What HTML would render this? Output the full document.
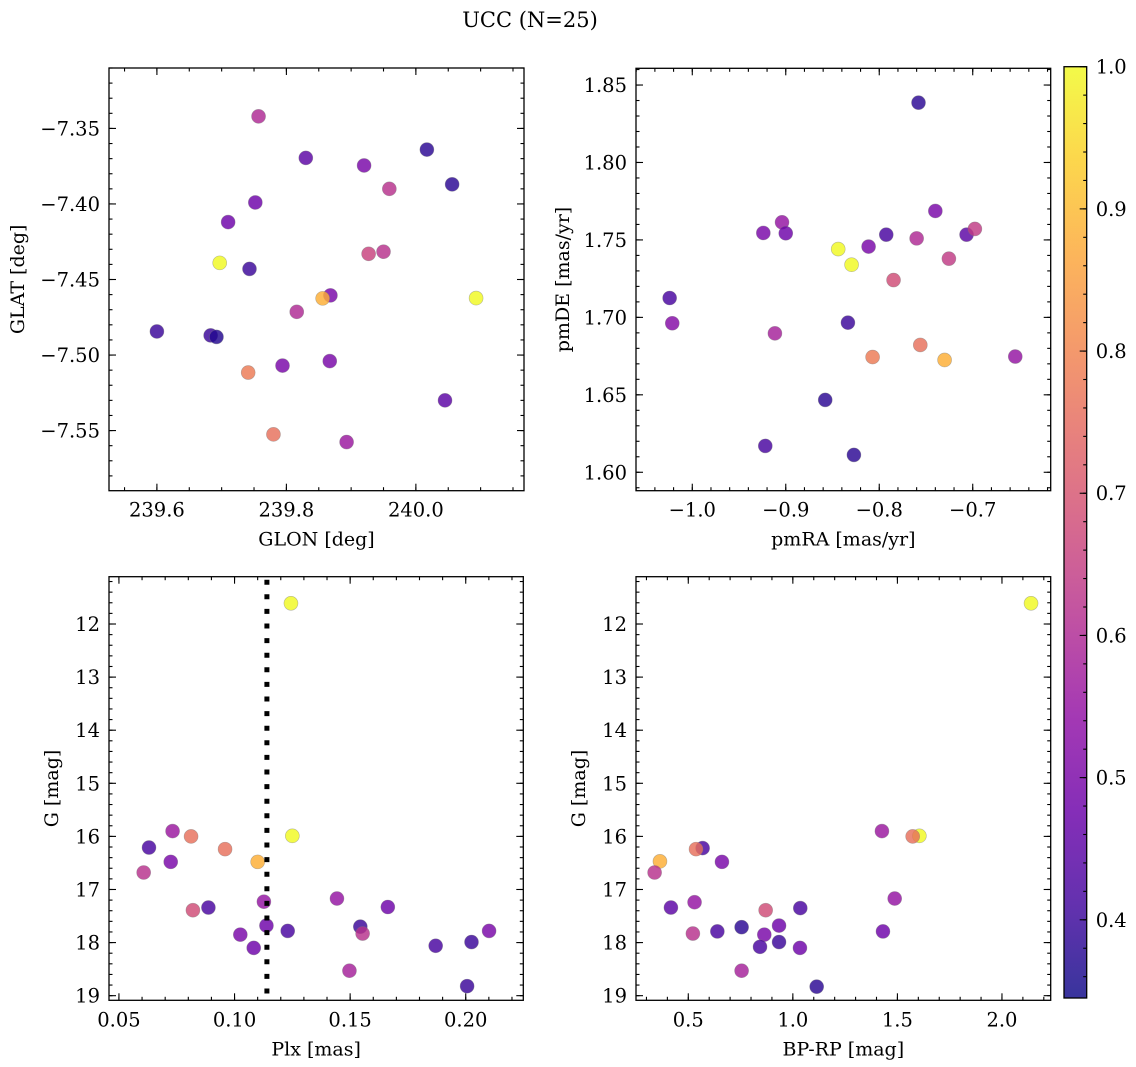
<!DOCTYPE html>
<html><head><meta charset="utf-8">
<style>
html,body{margin:0;padding:0;background:#fff;}
svg{display:block;font-family:"DejaVu Serif","Liberation Serif",serif;}
</style></head>
<body>
<svg id="fig" width="1136" height="1067" viewBox="0 0 1136 1067" xmlns="http://www.w3.org/2000/svg">
<text x="530" y="27" font-size="21" text-anchor="middle">UCC (N=25)</text>
</svg>
<script>
// ---- data ----
const glon = [239.757,239.830,239.920,240.017,240.056,239.959,239.752,239.710,239.927,239.950,239.697,239.743,239.868,239.856,240.093,239.816,239.600,239.683,239.692,239.867,239.794,239.741,240.045,239.780,239.893];
const glat = [-7.342,-7.3695,-7.3745,-7.364,-7.387,-7.390,-7.399,-7.412,-7.433,-7.4316,-7.439,-7.443,-7.4605,-7.4625,-7.4623,-7.4714,-7.4844,-7.487,-7.488,-7.504,-7.507,-7.5116,-7.530,-7.5525,-7.5576];
const probTL = [0.60,0.45,0.50,0.38,0.38,0.62,0.48,0.48,0.66,0.62,1.0,0.40,0.50,0.88,1.0,0.60,0.40,0.40,0.37,0.50,0.50,0.78,0.45,0.76,0.56];

const pmra = [-0.758,-0.740,-0.904,-0.924,-0.900,-0.7925,-0.760,-0.7066,-0.6977,-0.8114,-0.8439,-0.8296,-0.7255,-0.7847,-1.0242,-1.0214,-0.9116,-0.8335,-0.7561,-0.8071,-0.7301,-0.6545,-0.8578,-0.9219,-0.8271];
const pmde = [1.8386,1.7687,1.7614,1.7545,1.7543,1.7534,1.7510,1.7534,1.7571,1.7457,1.7441,1.7340,1.7379,1.7241,1.7125,1.6962,1.6897,1.6966,1.6822,1.6744,1.6725,1.6747,1.6467,1.6170,1.6112];
const probTR = [0.38,0.50,0.55,0.50,0.48,0.42,0.60,0.45,0.64,0.50,1.0,1.0,0.64,0.68,0.42,0.52,0.58,0.40,0.76,0.78,0.88,0.55,0.38,0.42,0.38];

const plx = [0.1244,0.125,0.0732,0.0812,0.0630,0.0959,0.0724,0.110,0.0607,0.0820,0.0887,0.1127,0.1138,0.1025,0.1083,0.123,0.1443,0.1544,0.1554,0.1663,0.1497,0.1870,0.2025,0.2101,0.2006];
const gmagBL = [11.61,15.99,15.90,16.00,16.21,16.24,16.48,16.48,16.68,17.39,17.34,17.23,17.68,17.85,18.10,17.78,17.17,17.70,17.83,17.33,18.53,18.06,17.99,17.78,18.82];
const probBL = [1.0,1.0,0.56,0.76,0.42,0.76,0.50,0.88,0.62,0.68,0.42,0.55,0.48,0.50,0.48,0.42,0.55,0.40,0.62,0.48,0.58,0.42,0.40,0.50,0.40];
const plxMedian = 0.114;

const bprp = [2.139,1.605,1.573,1.426,0.5685,0.537,0.661,0.3645,0.339,0.417,0.530,0.870,1.0356,1.487,0.755,0.639,0.522,0.934,0.8635,1.431,0.934,0.843,1.034,0.755,1.114];
const gmagBR = [11.61,15.99,16.00,15.90,16.22,16.24,16.48,16.47,16.68,17.34,17.24,17.39,17.35,17.17,17.71,17.79,17.83,17.68,17.85,17.79,17.99,18.08,18.10,18.53,18.83];
const probBR = [1.0,1.0,0.76,0.56,0.42,0.76,0.50,0.88,0.62,0.45,0.55,0.68,0.42,0.55,0.38,0.42,0.62,0.48,0.50,0.48,0.40,0.42,0.48,0.58,0.38];

const cbarMin = 0.345, cbarMax = 1.0;
const cbarTicks = [0.4,0.5,0.6,0.7,0.8,0.9,1.0];

// ---- helpers ----
const NS = "http://www.w3.org/2000/svg";
const svg = document.getElementById('fig');
const TICKFS = 19.5, LABFS = 19;
function mk(tag, attrs, parent){const e=document.createElementNS(NS,tag);for(const k in attrs)e.setAttribute(k,attrs[k]);(parent||svg).appendChild(e);return e;}
const stops=[[0,13,8,135],[0.1,65,4,157],[0.2,106,0,168],[0.3,143,13,164],[0.4,177,42,144],[0.5,204,71,120],[0.6,225,100,98],[0.7,242,132,75],[0.8,252,166,54],[0.9,252,206,37],[1,240,249,33]];
function plasma(t){t=Math.max(0,Math.min(1,t));for(let i=1;i<stops.length;i++){if(t<=stops[i][0]){const a=stops[i-1],b=stops[i];const f=(t-a[0])/(b[0]-a[0]);return `rgb(${Math.round(a[1]+f*(b[1]-a[1]))},${Math.round(a[2]+f*(b[2]-a[2]))},${Math.round(a[3]+f*(b[3]-a[3]))})`;}}return 'rgb(240,249,33)';}
function fmt(v,d){const s=Math.abs(v).toFixed(d);return (v<-1e-9?'\u2212':'')+s;}

function panel(cfg){
  const g=mk('g',{});
  
  
  const L=cfg.box[0],T=cfg.box[1],R=cfg.box[2],B=cfg.box[3];
  const sx=v=>L+(v-cfg.xd[0])/(cfg.xd[1]-cfg.xd[0])*(R-L);
  const sy=cfg.yinv? (v=>T+(v-cfg.yd[0])/(cfg.yd[1]-cfg.yd[0])*(B-T)) : (v=>B-(v-cfg.yd[0])/(cfg.yd[1]-cfg.yd[0])*(B-T));
  const clip='clip-'+cfg.name;
  const cp=mk('clipPath',{id:clip},g); mk('rect',{x:L,y:T,width:R-L,height:B-T},cp);
  const pg=mk('g',{'clip-path':`url(#${clip})`},g);
  
  
  for(let i=0;i<cfg.x.length;i++){
    const c=mk('circle',{cx:sx(cfg.x[i]),cy:sy(cfg.y[i]),r:7,fill:plasma((cfg.c[i]-cbarMin)/(cbarMax-cbarMin)),'fill-opacity':0.82,stroke:'#777','stroke-opacity':0.5,'stroke-width':0.6},pg);
    
    
  }
  if(cfg.vline!==undefined){
    const l=mk('line',{x1:sx(cfg.vline),x2:sx(cfg.vline),y1:T+3,y2:B,stroke:'#000','stroke-width':5,'stroke-dasharray':'5 9.6'},pg);
    
    
  }
  const tk=mk('g',{stroke:'#000','stroke-width':1.1},g);
  
  
  const eps=1e-9;
  function ticks(d,step){const a=[];let v=Math.ceil((d[0]-eps)/step)*step;for(;v<=d[1]+eps;v+=step)a.push(+v.toFixed(6));return a;}
  ticks(cfg.xd,cfg.xminor).forEach(v=>{const x=sx(v);mk('line',{x1:x,x2:x,y1:B,y2:B-3.5},tk);mk('line',{x1:x,x2:x,y1:T,y2:T+3.5},tk);});
  ticks(cfg.yd,cfg.yminor).forEach(v=>{const y=sy(v);mk('line',{x1:L,x2:L+3.5,y1:y,y2:y},tk);mk('line',{x1:R,x2:R-3.5,y1:y,y2:y},tk);});
  cfg.xt.forEach(v=>{const x=sx(v);mk('line',{x1:x,x2:x,y1:B,y2:B-7},tk);mk('line',{x1:x,x2:x,y1:T,y2:T+7},tk);
    const t=mk('text',{x:x,y:B+26,'font-size':TICKFS,'text-anchor':'middle'},g);t.textContent=fmt(v,cfg.xdec);
    
    });
  cfg.yt.forEach(v=>{const y=sy(v);mk('line',{x1:L,x2:L+7,y1:y,y2:y},tk);mk('line',{x1:R,x2:R-7,y1:y,y2:y},tk);
    const t=mk('text',{x:L-9,y:y+7,'font-size':TICKFS,'text-anchor':'end'},g);t.textContent=fmt(v,cfg.ydec);
    
    });
  const fr=mk('rect',{x:L,y:T,width:R-L,height:B-T,fill:'none',stroke:'#000','stroke-width':1.3},g);
  
  
  const xl=mk('text',{x:(L+R)/2,y:B+55,'font-size':LABFS,'text-anchor':'middle'},g);xl.textContent=cfg.xlab;
  
  
  const yl=mk('text',{x:cfg.ylx,y:(T+B)/2,'font-size':LABFS,'text-anchor':'middle',transform:`rotate(-90 ${cfg.ylx} ${(T+B)/2})`},g);yl.textContent=cfg.ylab;
  
  
}

panel({name:'glon-glat-panel',box:[109,68,524,490.7],xd:[239.526,240.167],yd:[-7.5898,-7.31],x:glon,y:glat,c:probTL,
  xt:[239.6,239.8,240.0],xminor:0.05,xdec:1,yt:[-7.55,-7.50,-7.45,-7.40,-7.35],yminor:0.01,ydec:2,xlab:'GLON [deg]',ylab:'GLAT [deg]',ylx:24});
panel({name:'pm-panel',box:[636,68.3,1050.7,490.7],xd:[-1.0602,-0.6166],yd:[1.5881,1.8608],x:pmra,y:pmde,c:probTR,
  xt:[-1.0,-0.9,-0.8,-0.7],xminor:0.02,xdec:1,yt:[1.60,1.65,1.70,1.75,1.80,1.85],yminor:0.01,ydec:2,xlab:'pmRA [mas/yr]',ylab:'pmDE [mas/yr]',ylx:569});
panel({name:'plx-g-panel',box:[109,576.7,523.3,1000.3],xd:[0.0457,0.2249],yd:[11.109,19.087],yinv:true,x:plx,y:gmagBL,c:probBL,vline:plxMedian,
  xt:[0.05,0.10,0.15,0.20],xminor:0.01,xdec:2,yt:[12,13,14,15,16,17,18,19],yminor:0.2,ydec:0,xlab:'Plx [mas]',ylab:'G [mag]',ylx:58});
panel({name:'cmd-panel',box:[636,576.7,1050.7,1000.3],xd:[0.250,2.233],yd:[11.109,19.087],yinv:true,x:bprp,y:gmagBR,c:probBR,
  xt:[0.5,1.0,1.5,2.0],xminor:0.1,xdec:1,yt:[12,13,14,15,16,17,18,19],yminor:0.2,ydec:0,xlab:'BP-RP [mag]',ylab:'G [mag]',ylx:585});

// colorbar
(function(){
  const L=1064,R=1086.7,T=66.7,B=998;
  const g=mk('g',{});
  
  
  const defs=mk('defs',{},g);
  const lg=mk('linearGradient',{id:'cbg',x1:0,y1:1,x2:0,y2:0},defs);
  for(let i=0;i<=20;i++){mk('stop',{offset:i/20,'stop-color':plasma(i/20),'stop-opacity':0.82},lg);}
  mk('rect',{x:L,y:T,width:R-L,height:B-T,fill:'url(#cbg)'},g);
  const sy=v=>B-(v-cbarMin)/(cbarMax-cbarMin)*(B-T);
  const tk=mk('g',{stroke:'#000','stroke-width':1.1},g);
  for(let v=0.36;v<=1.0001;v+=0.02){const y=sy(v);mk('line',{x1:R,x2:R-3.5,y1:y,y2:y},tk);}
  cbarTicks.forEach(v=>{const y=sy(v);mk('line',{x1:R,x2:R-7,y1:y,y2:y},tk);
    const t=mk('text',{x:R+9,y:y+7,'font-size':TICKFS},g);t.textContent=v.toFixed(1);
    
    });
  mk('rect',{x:L,y:T,width:R-L,height:B-T,fill:'none',stroke:'#000','stroke-width':1.3},g);
})();
</script>
</body></html>
